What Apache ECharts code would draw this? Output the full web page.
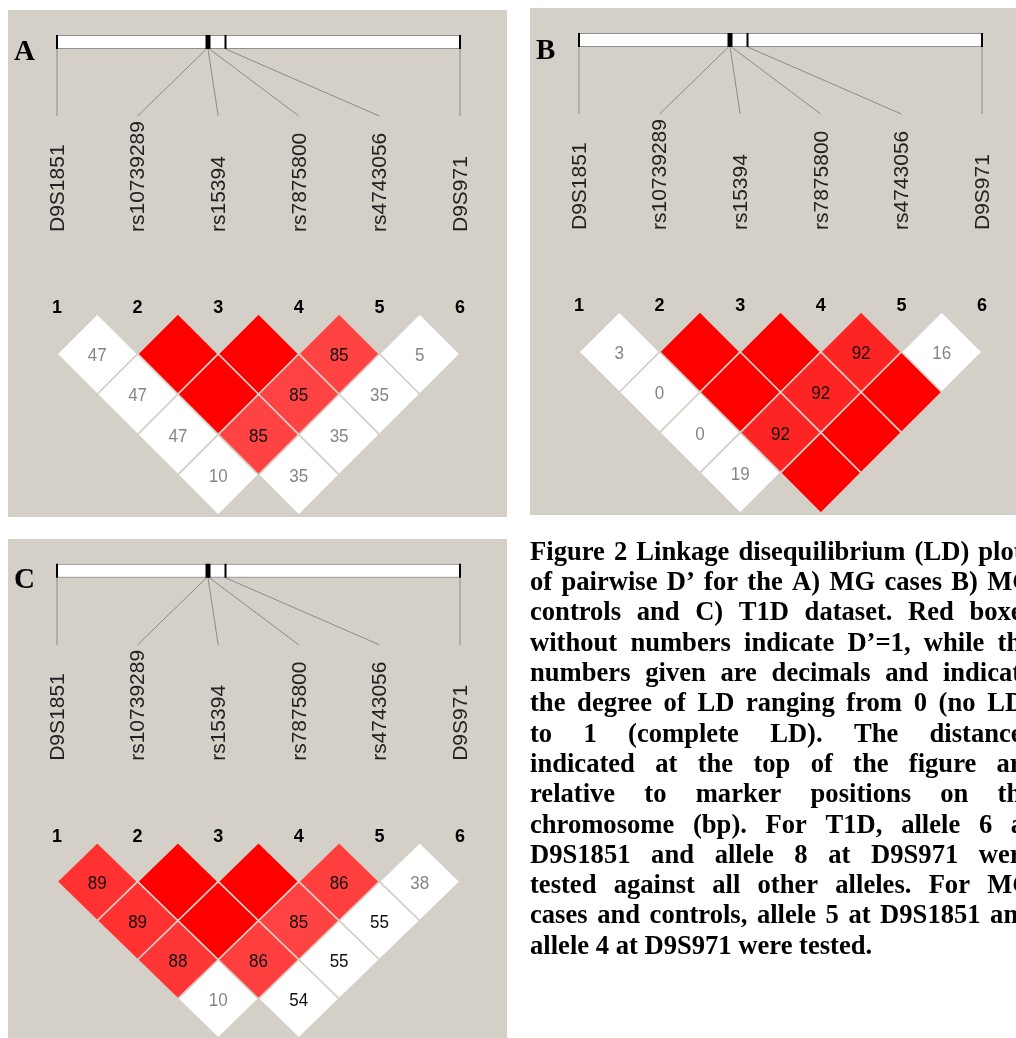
<!DOCTYPE html>
<html><head><meta charset="utf-8">
<script src="https://cdn.jsdelivr.net/npm/echarts@6/dist/echarts.min.js"></script>
<style>html,body{margin:0;padding:0;background:#fff;}#c{width:1016px;height:1038px;}</style>
</head><body><div id="c"></div>
<script>
// ---------------- data ----------------
const markerNames = ['D9S1851','rs10739289','rs15394','rs7875800','rs4743056','D9S971'];
const markerNumbers = ['1','2','3','4','5','6'];
// relative physical position along the region (0 = D9S1851, 1 = D9S971)
const mapPositions = [0, 0.371, 0.3747, 0.3784, 0.4181, 1];
const panelLetters = ['A','B','C'];
// [marker i, marker j, D' x100, kind]  kind: 's' strong LD (red shades), 'w' weak (white, grey text), 'k' white with black text
const ldA = [[1,2,47,'w'],[2,3,100,'s'],[3,4,100,'s'],[4,5,85,'s'],[5,6,5,'w'],
  [1,3,47,'w'],[2,4,100,'s'],[3,5,85,'s'],[4,6,35,'w'],
  [1,4,47,'w'],[2,5,85,'s'],[3,6,35,'w'],
  [1,5,10,'w'],[2,6,35,'w']];
const ldB = [[1,2,3,'w'],[2,3,100,'s'],[3,4,100,'s'],[4,5,92,'s'],[5,6,16,'w'],
  [1,3,0,'w'],[2,4,100,'s'],[3,5,92,'s'],[4,6,100,'s'],
  [1,4,0,'w'],[2,5,92,'s'],[3,6,100,'s'],
  [1,5,19,'w'],[2,6,100,'s']];
const ldC = [[1,2,89,'s'],[2,3,100,'s'],[3,4,100,'s'],[4,5,86,'s'],[5,6,38,'w'],
  [1,3,89,'s'],[2,4,100,'s'],[3,5,85,'s'],[4,6,55,'k'],
  [1,4,88,'s'],[2,5,86,'s'],[3,6,55,'k'],
  [1,5,10,'w'],[2,6,54,'k']];
const captionLines = [
  'Figure 2 Linkage disequilibrium (LD) plots',
  'of pairwise D\u2019 for the A) MG cases B) MG',
  'controls and C) T1D dataset. Red boxes',
  'without numbers indicate D\u2019=1, while the',
  'numbers given are decimals and indicate',
  'the degree of LD ranging from 0 (no LD)',
  'to 1 (complete LD). The distances',
  'indicated at the top of the figure are',
  'relative to marker positions on the',
  'chromosome (bp). For T1D, allele 6 at',
  'D9S1851 and allele 8 at D9S971 were',
  'tested against all other alleles. For MG',
  'cases and controls, allele 5 at D9S1851 and',
  'allele 4 at D9S971 were tested.'
];

// ---------------- layout / style ----------------
const BG = '#d4d0c8';
const panels = [
  {ld: ldA, left: 57,  top: 313.7, bg: [8, 10, 499, 507],  letter: [14, 38]},
  {ld: ldB, left: 579, top: 311.7, bg: [530, 8, 490, 507], letter: [536, 37]},
  {ld: ldC, left: 57,  top: 842.5, bg: [8, 539, 499, 510], letter: [14, 566]}
];
const ROW = 40.3, GW = 403;
const OFF = {barTop: -278.7, barBot: -264.7, connBot: -197.7, label: -81.7, num: -5.7};
const SANS = '"Liberation Sans", Arial, sans-serif';
const SERIF = '"Liberation Serif", "Times New Roman", serif';

function cellColor(v, kind) {
  if (kind !== 's') return '#ffffff';
  if (v >= 100) return '#ff0000';
  const g = Math.round(223 * 2 * (1 - v / 100));
  return 'rgb(255,' + g + ',' + g + ')';
}

const grids = [], xAxes = [], yAxes = [], series = [], graphics = [];
panels.forEach((p, k) => {
  graphics.push({type: 'rect', shape: {x: p.bg[0], y: p.bg[1], width: p.bg[2], height: p.bg[3]}, style: {fill: BG}, z: -10});
  graphics.push({type: 'text', x: p.letter[0], y: p.letter[1], style: {text: panelLetters[k], fontFamily: SERIF, fontWeight: 'bold', fontSize: 29, fill: '#000', align: 'left', verticalAlign: 'alphabetic'}});
  grids.push({left: p.left, top: p.top, width: GW, height: ROW * 5});
  xAxes.push({type: 'value', gridIndex: k, min: 1, max: 6, show: false});
  yAxes.push({type: 'value', gridIndex: k, min: 0, max: 5, inverse: true, show: false});
  // region bar
  series.push({type: 'custom', xAxisIndex: k, yAxisIndex: k, silent: true, clip: false,
    data: [[1, 6]],
    renderItem: function (params, api) {
      const a = api.coord([api.value(0), 0]), b = api.coord([api.value(1), 0]);
      const G = a[1];
      return {type: 'group', children: [
        {type: 'rect', shape: {x: a[0], y: G + OFF.barTop, width: b[0] - a[0], height: OFF.barBot - OFF.barTop}, style: {fill: '#fff'}},
        {type: 'line', shape: {x1: a[0], y1: G + OFF.barTop + 0.5, x2: b[0], y2: G + OFF.barTop + 0.5}, style: {stroke: '#909090', lineWidth: 1}},
        {type: 'line', shape: {x1: a[0], y1: G + OFF.barBot - 0.5, x2: b[0], y2: G + OFF.barBot - 0.5}, style: {stroke: '#909090', lineWidth: 1}}
      ]};
    }
  });
  // markers: tick on bar, connector, name, number
  series.push({type: 'custom', xAxisIndex: k, yAxisIndex: k, silent: true, clip: false,
    data: markerNames.map((n, i) => [i + 1, 1 + 5 * mapPositions[i]]),
    renderItem: function (params, api) {
      const m = api.coord([api.value(0), 0]);
      const ph = api.coord([api.value(1), 0]);
      const G = m[1];
      const i = params.dataIndex;
      return {type: 'group', children: [
        {type: 'line', shape: {x1: ph[0], y1: G + OFF.barTop, x2: ph[0], y2: G + OFF.barBot}, style: {stroke: '#000', lineWidth: 2}},
        {type: 'line', shape: {x1: ph[0], y1: G + OFF.barBot, x2: m[0], y2: G + OFF.connBot}, style: {stroke: '#8a8a8a', lineWidth: 1}},
        {type: 'text', x: m[0] + 1, y: G + OFF.label, rotation: Math.PI / 2,
          style: {text: markerNames[i], fontFamily: SANS, fontSize: 21, fill: '#222', align: 'left', verticalAlign: 'middle'}},
        {type: 'text', x: m[0], y: G + OFF.num,
          style: {text: markerNumbers[i], fontFamily: SANS, fontSize: 18, fontWeight: 'bold', fill: '#000', align: 'center', verticalAlign: 'middle'}}
      ]};
    }
  });
  // LD cells
  const src = p.ld;
  series.push({type: 'custom', xAxisIndex: k, yAxisIndex: k, silent: true, clip: false,
    data: src.map(d => [(d[0] + d[1]) / 2, d[1] - d[0], d[2]]),
    renderItem: function (params, api) {
      const cx = api.value(0), r = api.value(1), v = api.value(2);
      const kind = src[params.dataIndex][3];
      const pts = [api.coord([cx - 0.5, r]), api.coord([cx, r - 1]), api.coord([cx + 0.5, r]), api.coord([cx, r + 1])];
      const c = api.coord([cx, r]);
      const children = [{type: 'polygon', shape: {points: pts}, style: {fill: cellColor(v, kind), stroke: BG, lineWidth: 1.6}}];
      if (v < 100) {
        children.push({type: 'text', x: c[0], y: c[1] + 2, scaleY: 1.1,
          style: {text: String(v), fontFamily: SANS, fontSize: 17, fill: kind === 'w' ? '#858585' : '#111', align: 'center', verticalAlign: 'middle'}});
      }
      return {type: 'group', children: children};
    }
  });
});

// caption, justified
const CAP = {x: 530, right: 1033, y0: 553, lh: 30.3, size: 26.6};
const cv = document.createElement('canvas').getContext('2d');
cv.font = 'bold ' + CAP.size + 'px ' + SERIF;
captionLines.forEach((line, li) => {
  const words = line.split(' ');
  const widths = words.map(w => cv.measureText(w).width);
  const sum = widths.reduce((a, b) => a + b, 0);
  const last = li === captionLines.length - 1;
  const gap = last ? cv.measureText(' ').width : (CAP.right - CAP.x - sum) / (words.length - 1);
  let x = CAP.x;
  words.forEach((w, wi) => {
    graphics.push({type: 'text', x: x, y: CAP.y0 + li * CAP.lh,
      style: {text: w, fontFamily: SERIF, fontWeight: 'bold', fontSize: CAP.size, fill: '#000', align: 'left', verticalAlign: 'middle'}});
    x += widths[wi] + gap;
  });
});

const chart = echarts.init(document.getElementById('c'), null, {renderer: 'canvas'});
chart.setOption({
  animation: false,
  backgroundColor: '#ffffff',
  grid: grids, xAxis: xAxes, yAxis: yAxes,
  graphic: {elements: graphics},
  series: series
});
</script></body></html>
